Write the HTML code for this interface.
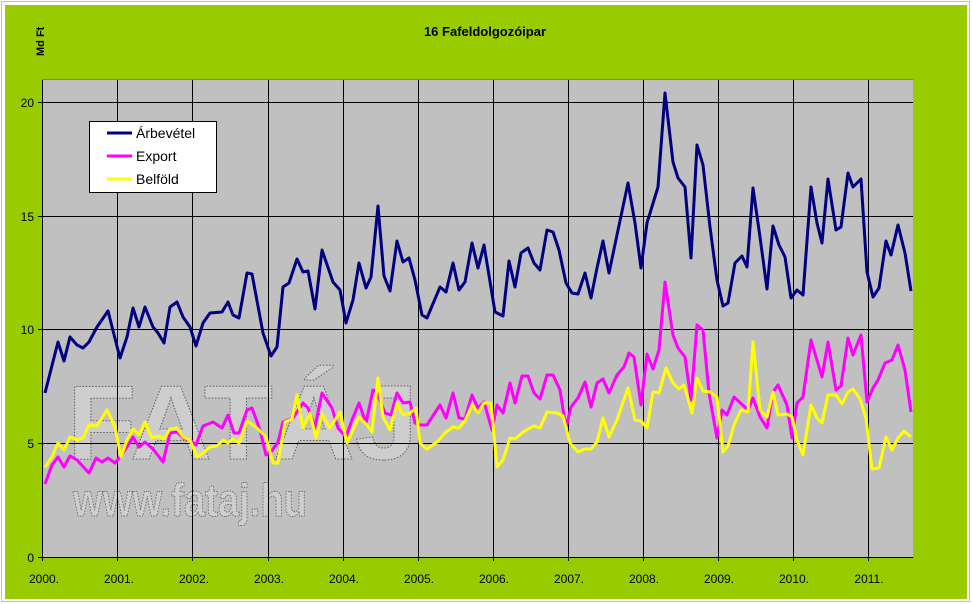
<!DOCTYPE html>
<html><head><meta charset="utf-8"><style>
html,body{margin:0;padding:0;background:#fff;}
svg{display:block;font-family:"Liberation Sans",Arial,sans-serif;}
</style></head><body>
<svg width="972" height="604" viewBox="0 0 972 604" xmlns="http://www.w3.org/2000/svg">
<rect x="0" y="0" width="972" height="604" fill="#fff"/>
<rect x="1.5" y="1.5" width="968" height="600" fill="none" stroke="#c0c0c0" stroke-width="1"/>
<rect x="5" y="5" width="962" height="594" fill="#99cc00"/>
<text x="485" y="36" font-size="13" font-weight="bold" text-anchor="middle">16 Fafeldolgozóipar</text>
<text transform="translate(44,56) rotate(-90)" font-size="11" font-weight="bold">Md Ft</text>
<rect x="42" y="79" width="871" height="478" fill="#c0c0c0"/>
<g fill="#cecece" stroke="#666" stroke-width="1" stroke-dasharray="1.5,1.5">
<text x="67" y="459" font-size="106" font-weight="bold" textLength="351" lengthAdjust="spacingAndGlyphs">FATÁJ</text>
<text x="73" y="516" font-size="46" font-weight="bold" textLength="234" lengthAdjust="spacingAndGlyphs">www.fataj.hu</text>
</g>
<g stroke="#000" stroke-width="1">
<line x1="42" y1="102.5" x2="913" y2="102.5"/>
<line x1="42" y1="216.5" x2="913" y2="216.5"/>
<line x1="42" y1="329.5" x2="913" y2="329.5"/>
<line x1="42" y1="443.5" x2="913" y2="443.5"/>
<line x1="42" y1="557.5" x2="913" y2="557.5"/>
<line x1="42.5" y1="79" x2="42.5" y2="561"/>
<line x1="117.5" y1="79" x2="117.5" y2="561"/>
<line x1="192.5" y1="79" x2="192.5" y2="561"/>
<line x1="268.5" y1="79" x2="268.5" y2="561"/>
<line x1="343.5" y1="79" x2="343.5" y2="561"/>
<line x1="418.5" y1="79" x2="418.5" y2="561"/>
<line x1="493.5" y1="79" x2="493.5" y2="561"/>
<line x1="568.5" y1="79" x2="568.5" y2="561"/>
<line x1="643.5" y1="79" x2="643.5" y2="561"/>
<line x1="718.5" y1="79" x2="718.5" y2="561"/>
<line x1="793.5" y1="79" x2="793.5" y2="561"/>
<line x1="868.5" y1="79" x2="868.5" y2="561"/>
<line x1="38" y1="102.5" x2="42" y2="102.5"/>
<line x1="38" y1="216.5" x2="42" y2="216.5"/>
<line x1="38" y1="329.5" x2="42" y2="329.5"/>
<line x1="38" y1="443.5" x2="42" y2="443.5"/>
<line x1="38" y1="557.5" x2="42" y2="557.5"/>
</g>
<line x1="42" y1="79.5" x2="913" y2="79.5" stroke="#808080"/>
<g font-size="12" text-anchor="end">
<text x="34" y="107">20</text><text x="34" y="221">15</text><text x="34" y="334">10</text><text x="34" y="448">5</text><text x="34" y="562">0</text>
</g>
<g font-size="12" text-anchor="middle">
<text x="44" y="583">2000.</text><text x="119" y="583">2001.</text><text x="194" y="583">2002.</text><text x="269" y="583">2003.</text><text x="344" y="583">2004.</text><text x="419" y="583">2005.</text><text x="494" y="583">2006.</text><text x="569" y="583">2007.</text><text x="644" y="583">2008.</text><text x="719" y="583">2009.</text><text x="794" y="583">2010.</text><text x="869" y="583">2011.</text>
</g>
<g fill="none" stroke-width="3" stroke-linejoin="round">
<polyline stroke="#000080" points="45,393 58,342 64,361 70,337 77,345 83,348 89,342 97,327 108,311 120,358 127,337 133,308 139,327 145,307 153,327 158,333 164,343 170,307 177,302 183,317 190,327 196,346 203,323 210,313 222,312 228,302 233,315 239,318 247,273 252,274 263,333 271,356 277,347 283,287 289,283 297,259 303,272 308,271 315,309 322,250 333,282 340,290 346,323 353,300 359,263 366,288 371,277 378,206 384,276 390,291 397,241 403,262 409,258 415,280 422,315 427,318 440,287 446,292 453,263 459,290 465,282 472,243 478,268 484,245 495,312 503,316 509,261 515,287 521,253 528,248 534,263 540,270 547,230 553,232 559,250 566,283 572,293 578,294 585,273 591,298 597,268 603,241 609,273 617,235 628,183 635,223 641,268 647,223 658,187 665,93 673,162 678,178 685,187 691,258 697,145 703,165 710,227 717,280 723,306 728,303 735,263 742,256 747,267 753,188 760,237 767,289 773,226 779,245 785,257 791,298 797,290 803,295 811,187 817,223 822,243 828,179 836,230 841,227 848,173 853,187 861,179 867,272 873,297 879,288 886,241 891,255 898,225 905,253 911,291"/>
<polyline stroke="#ff00ff" points="45,484 52,465 58,457 64,467 70,456 77,460 89,473 96,458 102,462 108,458 115,463 120,457 127,447 133,437 139,447 145,442 153,449 163,462 170,433 177,432 183,438 190,440 196,445 203,426 213,422 222,428 228,415 234,433 239,433 247,410 252,408 260,430 266,455 271,452 278,442 283,422 293,418 303,403 308,408 315,427 322,393 332,408 338,428 346,437 352,420 359,403 366,423 373,390 377,393 385,413 391,415 397,393 403,403 410,402 415,423 420,425 427,425 440,405 446,418 453,393 459,418 465,419 472,395 478,408 484,402 492,430 497,405 503,413 510,383 515,403 522,376 528,376 534,393 540,399 547,375 553,375 560,390 566,428 571,407 578,398 585,382 591,407 597,383 603,379 609,393 617,375 624,367 629,353 634,357 641,405 647,354 653,369 659,350 665,282 673,335 678,348 685,357 691,400 697,325 703,330 709,393 717,438 722,410 727,415 734,397 748,410 753,398 760,417 767,428 773,392 778,385 787,405 792,438 797,403 803,397 811,340 822,377 828,342 836,390 841,386 848,338 853,355 861,335 867,402 873,388 878,380 885,363 892,360 898,345 905,370 911,412"/>
<polyline stroke="#ffff00" points="45,467 52,457 58,443 64,450 70,437 77,440 83,438 89,425 97,426 107,410 115,427 121,457 127,440 133,429 139,435 145,422 152,438 158,436 164,439 170,429 177,428 183,437 190,440 197,457 203,453 210,447 217,446 223,440 228,443 233,439 239,443 247,421 257,428 266,437 273,463 278,463 285,422 292,419 297,395 303,428 310,413 316,438 322,414 330,428 340,412 347,443 353,430 359,417 367,425 372,432 378,378 383,417 390,430 397,403 403,415 410,413 416,408 420,443 427,449 437,442 445,433 453,427 459,428 465,421 472,405 478,413 484,403 491,403 497,467 503,460 510,438 515,439 522,433 528,429 534,426 540,428 547,412 557,413 563,416 570,443 578,452 585,449 591,449 597,442 603,418 609,437 617,420 628,388 635,420 641,421 647,428 653,392 659,393 666,368 673,383 679,389 684,385 692,413 697,378 703,391 710,392 717,397 723,452 728,446 734,425 741,410 748,412 753,342 760,410 767,417 773,392 778,415 787,414 792,417 797,440 803,455 811,405 817,418 822,423 828,395 836,395 842,404 848,392 853,389 860,399 866,418 872,469 879,468 886,437 892,450 898,438 904,431 911,437"/>
</g>
<rect x="89.5" y="121.5" width="127" height="71" fill="#fff" stroke="#000"/>
<g stroke-width="3">
<line x1="107" y1="133" x2="132" y2="133" stroke="#000080"/>
<line x1="107" y1="156" x2="132" y2="156" stroke="#ff00ff"/>
<line x1="107" y1="179" x2="132" y2="179" stroke="#ffff00"/>
</g>
<g font-size="14">
<text x="136" y="138">Árbevétel</text>
<text x="136" y="161">Export</text>
<text x="136" y="184">Belföld</text>
</g>
</svg>
</body></html>
